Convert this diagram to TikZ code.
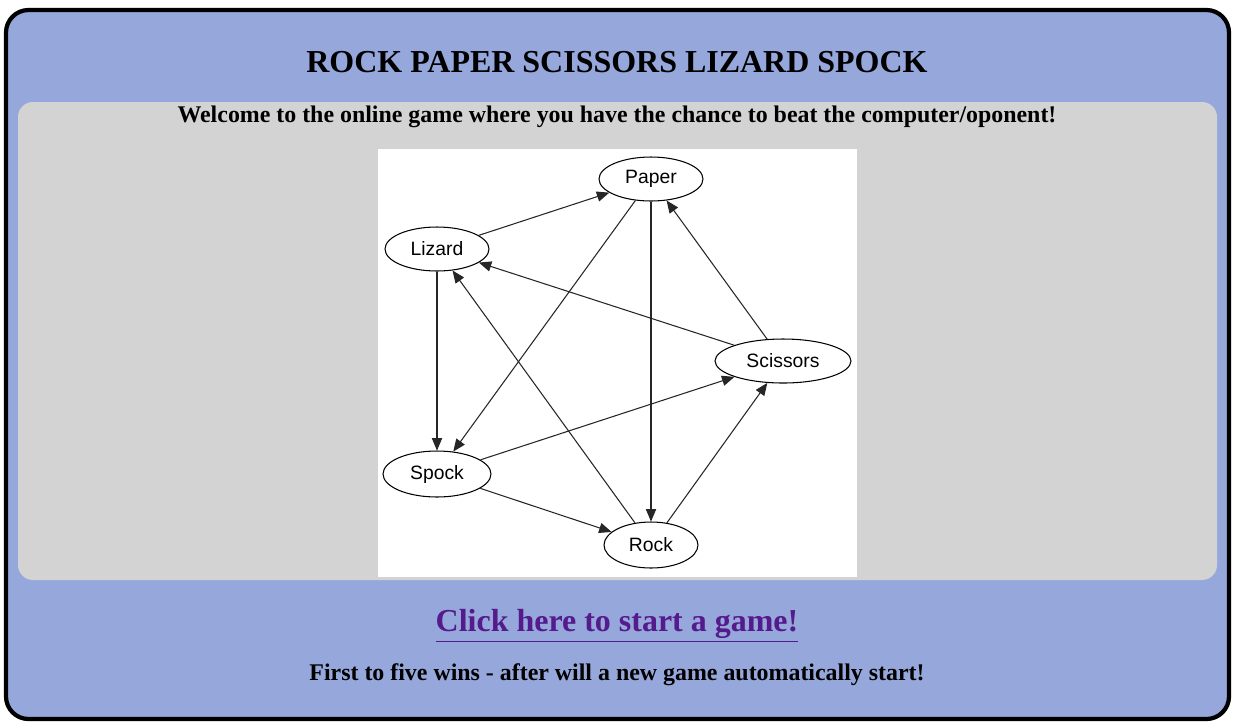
\documentclass[tikz,border=0pt]{standalone}
\usepackage{fontspec}
\setmainfont{Liberation Serif}
\newfontfamily\graphfont{Liberation Sans}
\usetikzlibrary{arrows,shapes.geometric}
\definecolor{pagebg}{HTML}{96A8DB}
\definecolor{panelbg}{HTML}{D3D3D3}
\definecolor{linkcol}{HTML}{551A8B}
\begin{document}
\begin{tikzpicture}[x=0.02cm,y=-0.02cm,>=triangle 45,
    movenode/.style={ellipse, draw=black, fill=white, semithick, inner sep=0pt, font=\graphfont\fontsize{11}{13}\selectfont},
    beats/.style={->, black!85, semithick}]
  \useasboundingbox (0,0) rectangle (1235,725);
  % page frame and panels
  \draw[line width=2.4pt, fill=pagebg, rounded corners=0.45cm] (6,10) rectangle (1229,719);
  \fill[panelbg, rounded corners=0.3cm] (18,102) rectangle (1217,580);
  \fill[white] (378,149) rectangle (857,577);
  \node[font=\bfseries\fontsize{18.2}{21}\selectfont] (title) at (617,62) {ROCK PAPER SCISSORS LIZARD SPOCK};
  \node[font=\bfseries\fontsize{13.6}{16}\selectfont] (welcome) at (617,117) {Welcome to the online game where you have the chance to beat the computer/oponent!};
  \node[font=\bfseries\fontsize{18.2}{21}\selectfont, text=linkcol] (link) at (617,626) {\underline{Click here to start a game!}};
  \node[font=\bfseries\fontsize{13.6}{16}\selectfont] (rules) at (617,675) {First to five wins - after will a new game automatically start!};
  % the graph
  \node[movenode, minimum width=2.08cm, minimum height=0.88cm] (paper)    at (651,179) {Paper};
  \node[movenode, minimum width=2.08cm, minimum height=0.88cm] (lizard)   at (437,249) {Lizard};
  \node[movenode, minimum width=2.72cm, minimum height=0.88cm] (scissors) at (783,361) {Scissors};
  \node[movenode, minimum width=2.16cm, minimum height=0.92cm] (spock)    at (437,474) {Spock};
  \node[movenode, minimum width=1.88cm, minimum height=0.92cm] (rock)     at (651,545) {Rock};
  \draw[beats] (lizard) -- (paper);
  \draw[beats] (paper) -- (spock);
  \draw[beats] (paper) -- (rock);
  \draw[beats] (scissors) -- (paper);
  \draw[beats] (scissors) -- (lizard);
  \draw[beats] (rock) -- (lizard);
  \draw[beats] (lizard) -- (spock);
  \draw[beats] (spock) -- (scissors);
  \draw[beats] (spock) -- (rock);
  \draw[beats] (rock) -- (scissors);
\end{tikzpicture}
\end{document}
